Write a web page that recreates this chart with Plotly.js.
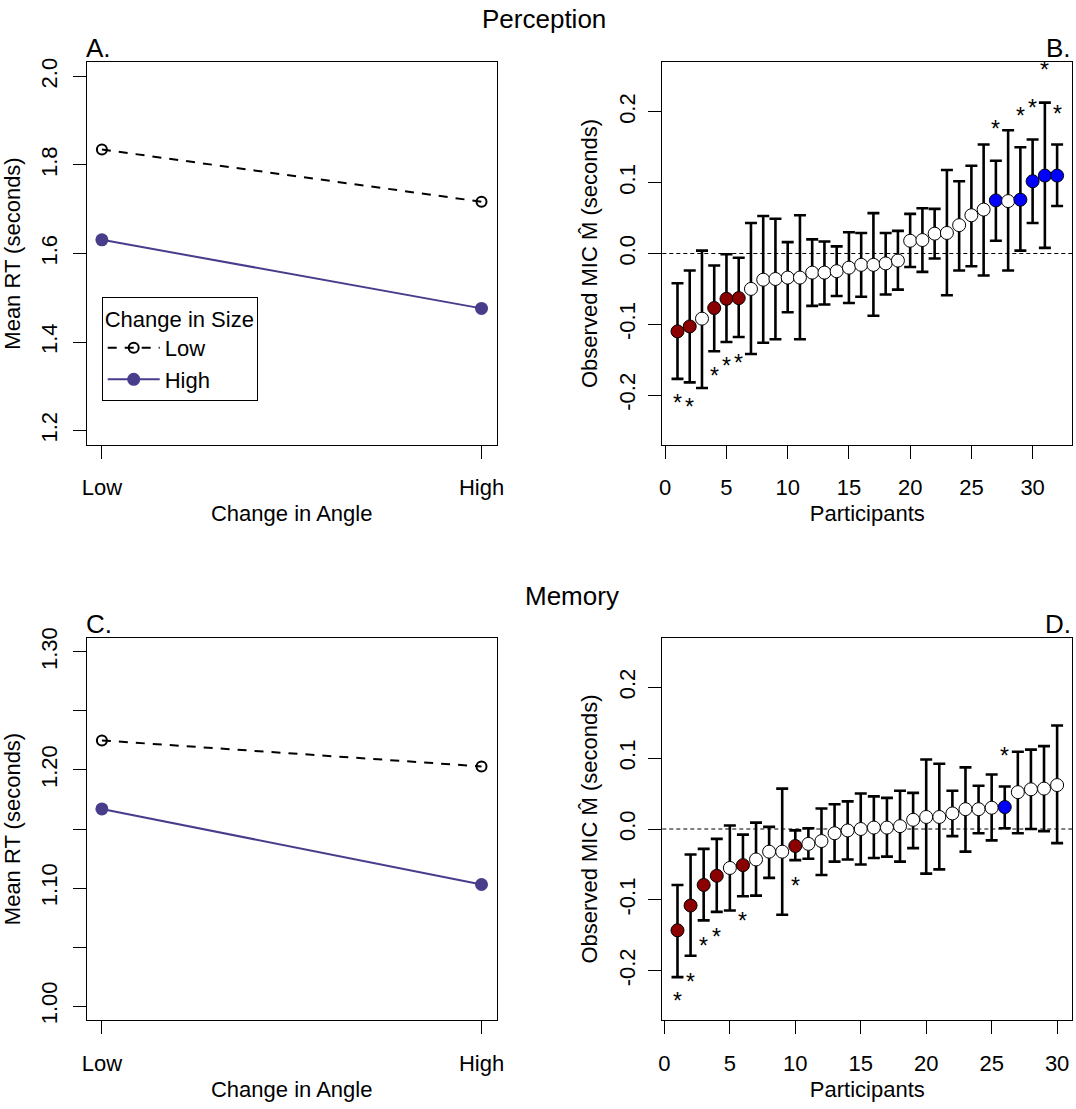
<!DOCTYPE html>
<html><head><meta charset="utf-8">
<script src="https://cdn.plot.ly/plotly-3.0.1.min.js"></script>
<style>html,body{margin:0;padding:0;background:#fff}</style>
</head><body><div id="chart" style="width:1076px;height:1109px"></div>
<script>
// ---- Panels A / C : mean RT by change in angle and change in size
const angleLevels = ["Low", "High"];
const sizeLevels = ["Low", "High"];
const percLowSize = [1.835, 1.717];
const percHighSize = [1.631, 1.476];
const memLowSize = [1.225, 1.203];
const memHighSize = [1.167, 1.103];

// ---- Panel B : perception, observed MIC per participant
const percIds = [1,2,3,4,5,6,7,8,9,10,11,12,13,14,15,16,17,18,19,20,21,22,23,24,25,26,27,28,29,30,31,32];
const percEst = [-0.110,-0.103,-0.092,-0.077,-0.064,-0.063,-0.050,-0.037,-0.036,-0.034,-0.034,-0.027,-0.027,-0.025,-0.020,-0.016,-0.016,-0.014,-0.010,0.018,0.019,0.028,0.029,0.040,0.054,0.062,0.075,0.074,0.076,0.102,0.110,0.110];
const percLo = [-0.177,-0.182,-0.190,-0.138,-0.125,-0.118,-0.142,-0.126,-0.121,-0.083,-0.121,-0.074,-0.072,-0.060,-0.070,-0.061,-0.088,-0.058,-0.051,-0.019,-0.026,-0.007,-0.059,-0.024,-0.018,-0.031,0.018,-0.024,0.004,0.043,0.008,0.067];
const percHi = [-0.042,-0.024,0.004,-0.017,-0.001,-0.006,0.043,0.053,0.049,0.016,0.054,0.020,0.017,0.010,0.030,0.029,0.057,0.029,0.032,0.056,0.064,0.063,0.118,0.102,0.124,0.154,0.131,0.174,0.150,0.161,0.213,0.154];
const percSig = [-1,-1,0,-1,-1,-1,0,0,0,0,0,0,0,0,0,0,0,0,0,0,0,0,0,0,0,0,1,0,1,1,1,1];
const percStarX = [1,2,4,5,6,27,29,30,31,32];
const percStarY = [-0.207,-0.213,-0.169,-0.155,-0.150,0.180,0.199,0.210,0.263,0.201];

// ---- Panel D : memory, observed MIC per participant
const memIds = [1,2,3,4,5,6,7,8,9,10,11,12,13,14,15,16,17,18,19,20,21,22,23,24,25,26,27,28,29,30];
const memEst = [-0.143,-0.108,-0.079,-0.066,-0.055,-0.051,-0.043,-0.032,-0.032,-0.024,-0.021,-0.017,-0.006,-0.002,0.000,0.002,0.002,0.004,0.013,0.017,0.017,0.022,0.028,0.028,0.030,0.031,0.052,0.056,0.057,0.062];
const memLo = [-0.209,-0.179,-0.129,-0.117,-0.115,-0.095,-0.094,-0.069,-0.121,-0.044,-0.042,-0.065,-0.046,-0.043,-0.050,-0.041,-0.039,-0.046,-0.027,-0.063,-0.057,-0.010,-0.032,-0.006,-0.016,0.001,-0.006,0.000,-0.003,-0.020];
const memHi = [-0.079,-0.036,-0.028,-0.014,0.005,-0.008,0.009,0.003,0.057,-0.002,0.001,0.029,0.035,0.039,0.050,0.046,0.044,0.054,0.051,0.098,0.092,0.054,0.087,0.061,0.077,0.060,0.109,0.112,0.117,0.146];
const memSig = [-1,-1,-1,-1,0,-1,0,0,0,-1,0,0,0,0,0,0,0,0,0,0,0,0,0,0,0,1,0,0,0,0];
const memStarX = [1,2,3,4,6,10,26];
const memStarY = [-0.239,-0.211,-0.161,-0.148,-0.126,-0.076,0.107];

const rtTicksTop = [1.2, 1.4, 1.6, 1.8, 2.0];
const rtTickTextTop = ["1.2", "1.4", "1.6", "1.8", "2.0"];
const rtTicksBot = [1.00, 1.05, 1.10, 1.15, 1.20, 1.25, 1.30];
const rtTickTextBot = ["1.00", "", "1.10", "", "1.20", "", "1.30"];
const micTicks = [-0.2, -0.1, 0.0, 0.1, 0.2];
const micTickText = ["-0.2", "-0.1", "0.0", "0.1", "0.2"];
const partTicks = [0, 5, 10, 15, 20, 25, 30];

// ---- styling
const FONT = "Liberation Sans, Arial, Helvetica, sans-serif";
const SLATE = "#483D8B";
const sigColor = s => (s < 0 ? "#8B0000" : (s > 0 ? "#0000FF" : "#FFFFFF"));

function rtTraces(lowVals, highVals, xa, ya, legend) {
  return [
    {x: angleLevels, y: lowVals, xaxis: xa, yaxis: ya, type: "scatter", mode: "lines+markers",
     name: sizeLevels[0], showlegend: legend, legendgroup: "low",
     line: {color: "black", width: 2, dash: "9px,8px"},
     marker: {symbol: "circle-open", size: 10, color: "black", line: {width: 2, color: "black"}}},
    {x: angleLevels, y: highVals, xaxis: xa, yaxis: ya, type: "scatter", mode: "lines+markers",
     name: sizeLevels[1], showlegend: legend, legendgroup: "high",
     line: {color: SLATE, width: 2},
     marker: {symbol: "circle", size: 13, color: SLATE}}
  ];
}

function micTrace(ids, est, lo, hi, sig, xa, ya) {
  return {
    x: ids, y: est, xaxis: xa, yaxis: ya, type: "scatter", mode: "markers", showlegend: false,
    error_y: {type: "data", symmetric: false,
      array: hi.map((h, i) => h - est[i]), arrayminus: lo.map((l, i) => est[i] - l),
      color: "black", thickness: 2.6, width: 6},
    marker: {size: 13, color: sig.map(sigColor), line: {color: "black", width: 1}}
  };
}

const data = [
  ...rtTraces(percLowSize, percHighSize, "x", "y", true),
  ...rtTraces(memLowSize, memHighSize, "x3", "y3", false),
  micTrace(percIds, percEst, percLo, percHi, percSig, "x2", "y2"),
  micTrace(memIds, memEst, memLo, memHi, memSig, "x4", "y4")
];

const W = 1076, H = 1109;
const px = v => v / W;
const py = v => 1 - v / H;
const colL = [px(86.7), px(496.7)];
const colR = [px(662.3), px(1072.3)];
const rowT = [py(444.7), py(62.3)];
const rowB = [py(1020.3), py(637.7)];

function baseAxis(extra) {
  return Object.assign({
    showline: true, mirror: true, linecolor: "black", linewidth: 1,
    ticks: "outside", ticklen: 13, tickwidth: 1, tickcolor: "black",
    showgrid: false, zeroline: false, automargin: false,
    tickfont: {family: FONT, size: 22, color: "black"},
    fixedrange: true
  }, extra);
}
function xTitle(t) { return {text: t, font: {family: FONT, size: 22, color: "black"}, standoff: 6}; }
function yTitle(t) { return {text: t, font: {family: FONT, size: 22, color: "black"}, standoff: 10}; }

const layout = {
  width: W, height: H,
  margin: {l: 0, r: 0, t: 0, b: 0},
  paper_bgcolor: "white", plot_bgcolor: "white",
  font: {family: FONT, size: 22, color: "black"},
  showlegend: true,
  legend: {x: px(101.7), y: py(297.3), xanchor: "left", yanchor: "top",
    bgcolor: "white", bordercolor: "black", borderwidth: 1,
    font: {family: FONT, size: 22, color: "black"},
    title: {text: "Change in Size", font: {family: FONT, size: 22, color: "black"}},
    tracegroupgap: 0, itemwidth: 52},
  xaxis: baseAxis({domain: colL, anchor: "y", type: "category", range: [-0.04, 1.04], ticklabelstandoff: 10, title: xTitle("Change in Angle")}),
  yaxis: baseAxis({domain: rowT, anchor: "x", range: [1.168, 2.032], tickvals: rtTicksTop, ticktext: rtTickTextTop, tickangle: -90, ticklabelstandoff: 7, title: yTitle("Mean RT (seconds)")}),
  xaxis2: baseAxis({domain: colR, anchor: "y2", range: [-0.24, 33.24], tickvals: partTicks, ticklabelstandoff: 10, title: xTitle("Participants")}),
  yaxis2: baseAxis({domain: rowT, anchor: "x2", range: [-0.27, 0.27], tickvals: micTicks, ticktext: micTickText, tickangle: -90, ticklabelstandoff: 5, title: yTitle("Observed MIC M\u0302 (seconds)")}),
  xaxis3: baseAxis({domain: colL, anchor: "y3", type: "category", range: [-0.04, 1.04], ticklabelstandoff: 10, title: xTitle("Change in Angle")}),
  yaxis3: baseAxis({domain: rowB, anchor: "x3", range: [0.988, 1.312], tickvals: rtTicksBot, ticktext: rtTickTextBot, tickangle: -90, ticklabelstandoff: 7, title: yTitle("Mean RT (seconds)")}),
  xaxis4: baseAxis({domain: colR, anchor: "y4", range: [-0.16, 31.16], tickvals: partTicks, ticklabelstandoff: 10, title: xTitle("Participants")}),
  yaxis4: baseAxis({domain: rowB, anchor: "x4", range: [-0.27, 0.27], tickvals: micTicks, ticktext: micTickText, tickangle: -90, ticklabelstandoff: 5, title: yTitle("Observed MIC M\u0302 (seconds)")}),
  shapes: [
    {type: "line", xref: "x2 domain", yref: "y2", x0: 0, x1: 1, y0: 0, y1: 0, line: {color: "black", width: 1, dash: "4px,3px"}, layer: "below"},
    {type: "line", xref: "x4 domain", yref: "y4", x0: 0, x1: 1, y0: 0, y1: 0, line: {color: "black", width: 1, dash: "4px,3px"}, layer: "below"}
  ],
  annotations: [
    {text: "Perception", xref: "paper", yref: "paper", x: px(544), y: py(18.5), xanchor: "center", yanchor: "middle", showarrow: false, font: {family: FONT, size: 26, color: "black"}},
    {text: "Memory", xref: "paper", yref: "paper", x: px(571.5), y: py(596), xanchor: "center", yanchor: "middle", showarrow: false, font: {family: FONT, size: 26, color: "black"}},
    {text: "A.", xref: "paper", yref: "paper", x: px(84), y: py(47.5), xanchor: "left", yanchor: "middle", showarrow: false, font: {family: FONT, size: 26, color: "black"}},
    {text: "B.", xref: "paper", yref: "paper", x: px(1073), y: py(47.5), xanchor: "right", yanchor: "middle", showarrow: false, font: {family: FONT, size: 26, color: "black"}},
    {text: "C.", xref: "paper", yref: "paper", x: px(84), y: py(623.7), xanchor: "left", yanchor: "middle", showarrow: false, font: {family: FONT, size: 26, color: "black"}},
    {text: "D.", xref: "paper", yref: "paper", x: px(1073), y: py(623.7), xanchor: "right", yanchor: "middle", showarrow: false, font: {family: FONT, size: 26, color: "black"}},
    ...percStarX.map((x, i) => ({text: "*", xref: "x2", yref: "y2", x: x, y: percStarY[i], showarrow: false, yshift: -3, font: {family: FONT, size: 23, color: "black"}})),
    ...memStarX.map((x, i) => ({text: "*", xref: "x4", yref: "y4", x: x, y: memStarY[i], showarrow: false, yshift: -3, font: {family: FONT, size: 23, color: "black"}}))
  ]
};

Plotly.newPlot("chart", data, layout, {displayModeBar: false, staticPlot: true});
</script>
</body></html>
